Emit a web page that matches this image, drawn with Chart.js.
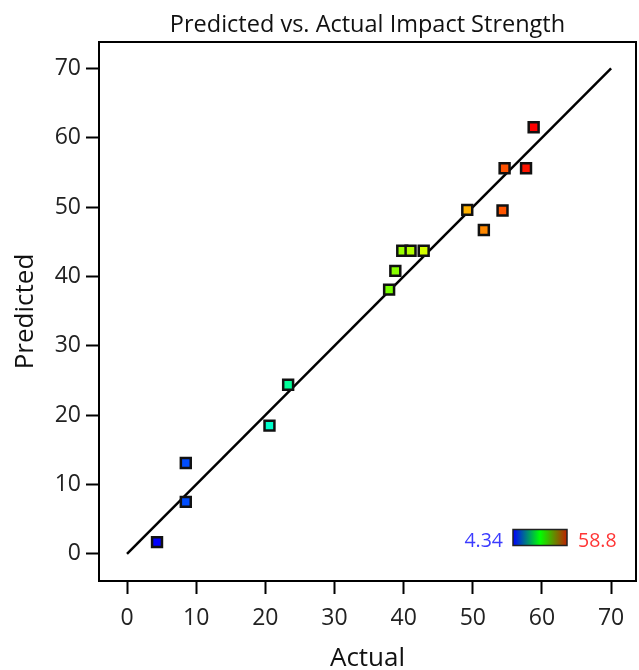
<!DOCTYPE html>
<html>
<head>
<meta charset="utf-8">
<title>Predicted vs. Actual Impact Strength</title>
<script src="https://cdn.jsdelivr.net/npm/chart.js@4/dist/chart.umd.min.js"></script>
<style>
    html, body { margin: 0; padding: 0; background: #fff; }
    #wrap { width: 639px; height: 670px; }
</style>
</head>
<body>
<div id="wrap"><canvas id="pva" width="639" height="670"></canvas></div>
<script>
const actual = [4.34, 8.5, 8.5, 20.6, 23.3, 37.9, 38.8, 39.8, 41.0, 42.9, 49.2, 51.6, 54.3, 54.6, 57.7, 58.8];
const predicted = [1.7, 7.5, 13.1, 18.5, 24.4, 38.1, 40.8, 43.7, 43.7, 43.7, 49.6, 46.7, 49.5, 55.6, 55.6, 61.5];
const fitLine = [0, 70];
const axisTicks = [0, 10, 20, 30, 40, 50, 60, 70];
const colorMin = 4.34;
const colorMax = 58.8;

const FONT = "'Open Sans', 'Noto Sans', sans-serif";

// blue -> cyan -> green -> yellow -> red, by actual value
function pointColor(v) {
    const t = Math.min(1, Math.max(0, (v - colorMin) / (colorMax - colorMin)));
    return `hsl(${Math.round(240 * (1 - t))}, 100%, 50%)`;
}

const overlayPlugin = {
    id: "overlay",
    beforeDatasetsDraw(chart) {
        const { ctx, chartArea: a } = chart;
        const midX = (a.left + a.right) / 2;
        ctx.save();
        ctx.strokeStyle = "#000";
        ctx.lineWidth = 2;
        ctx.strokeRect(a.left, a.top, a.right - a.left, a.bottom - a.top);

        ctx.fillStyle = "#111";
        ctx.textAlign = "center";
        ctx.textBaseline = "alphabetic";
        ctx.font = `23.5px ${FONT}`;
        ctx.fillText("Predicted vs. Actual Impact Strength", midX, 32);

        ctx.font = `26px ${FONT}`;
        ctx.fillText("Actual", midX, 666);
        ctx.translate(33, (a.top + a.bottom) / 2);
        ctx.rotate(-Math.PI / 2);
        ctx.fillText("Predicted", 0, 0);
        ctx.restore();
    },
    afterDraw(chart) {
        const { ctx } = chart;
        const x0 = 513, y0 = 529.5, w = 54, h = 16;
        ctx.save();
        const grad = ctx.createLinearGradient(x0, 0, x0 + w, 0);
        grad.addColorStop(0, "#0000ff");
        grad.addColorStop(0.5, "#00ff00");
        grad.addColorStop(1, "#c02000");
        ctx.fillStyle = grad;
        ctx.fillRect(x0, y0, w, h);
        ctx.strokeStyle = "#222";
        ctx.lineWidth = 1.5;
        ctx.strokeRect(x0, y0, w, h);

        ctx.font = `19.5px ${FONT}`;
        ctx.textBaseline = "alphabetic";
        ctx.textAlign = "right";
        ctx.fillStyle = "#3b3bff";
        ctx.fillText(String(colorMin), 503, 546.5);
        ctx.textAlign = "left";
        ctx.fillStyle = "#ff3535";
        ctx.fillText(String(colorMax), 578, 546.5);
        ctx.restore();
    },
};

function axisOptions(isX) {
    return {
        type: "linear",
        min: isX ? -4.05 : -3.9,
        max: isX ? 73.6 : 73.8,
        afterBuildTicks: (scale) => {
            scale.ticks = axisTicks.map((v) => ({ value: v }));
        },
        afterFit: (scale) => {
            if (isX) {
                scale.height = 89;
                scale.paddingLeft = 0;
                scale.paddingRight = 0;
            } else {
                scale.width = 99;
                scale.paddingTop = 0;
                scale.paddingBottom = 0;
            }
        },
        border: { display: false },
        grid: {
            drawOnChartArea: false,
            drawTicks: true,
            tickLength: 13,
            tickWidth: 2,
            tickColor: "#000",
        },
        ticks: {
            padding: isX ? 11 : 5,
            color: "#222",
            font: { family: FONT, size: 23 },
        },
        title: { display: false },
    };
}

function initChart() {
    const ctx = document.getElementById("pva");
    new Chart(ctx, {
        type: "scatter",
        data: {
            datasets: [
                {
                    type: "line",
                    data: fitLine.map((v) => ({ x: v, y: v })),
                    borderColor: "#000",
                    borderWidth: 2.5,
                    pointRadius: 0,
                    fill: false,
                    order: 2,
                },
                {
                    data: actual.map((x, i) => ({ x, y: predicted[i] })),
                    pointStyle: "rect",
                    pointRadius: 7,
                    pointBorderWidth: 2.5,
                    pointBorderColor: "#111",
                    pointBackgroundColor: actual.map(pointColor),
                    order: 1,
                },
            ],
        },
        options: {
            responsive: false,
            animation: false,
            layout: {
                autoPadding: false,
                padding: { top: 42, right: 3, left: 0, bottom: 0 },
            },
            plugins: {
                legend: { display: false },
                tooltip: { enabled: false },
            },
            scales: {
                x: axisOptions(true),
                y: axisOptions(false),
            },
        },
        plugins: [overlayPlugin],
    });
}

document.addEventListener("DOMContentLoaded", initChart);
</script>
</body>
</html>
